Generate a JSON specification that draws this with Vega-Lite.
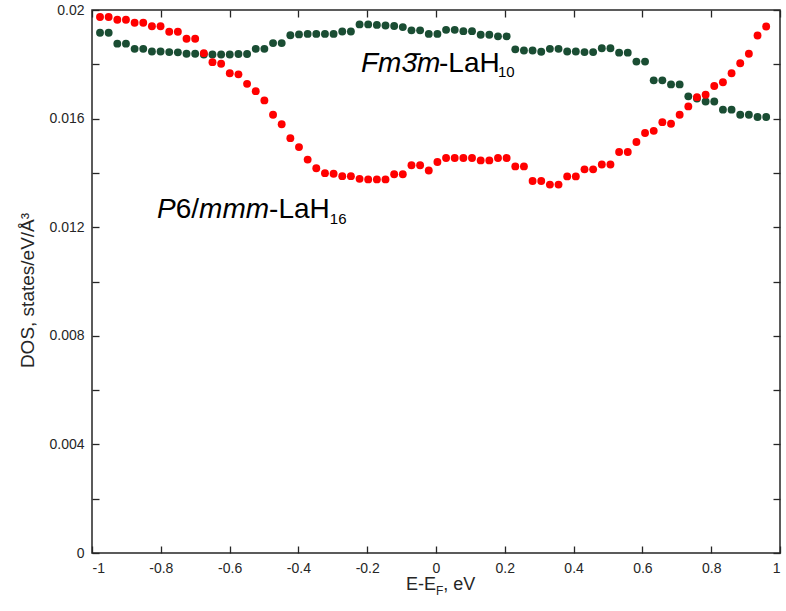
{
  "$schema": "https://vega.github.io/schema/vega-lite/v6.json",
  "width": 688,
  "height": 543,
  "autosize": {"type": "none"},
  "padding": {"left": 92, "top": 10, "right": 6, "bottom": 58},
  "background": "white",
  "config": {
    "font": "Liberation Sans",
    "view": {"stroke": "#262626", "strokeWidth": 1.5},
    "axis": {"grid": false, "domain": false, "tickColor": "#262626", "tickWidth": 1.3, "tickSize": -7, "labelColor": "#262626", "labelFontSize": 14, "labelPadding": 15, "titleColor": "#262626", "titleFontWeight": "normal", "titleFontSize": 19}
  },
  "datasets": {
    "green": [
      {"E": -0.9767, "DOS": 0.01916}, {"E": -0.9516, "DOS": 0.01916}, {"E": -0.9264, "DOS": 0.01876}, {"E": -0.9013, "DOS": 0.01876},
      {"E": -0.8761, "DOS": 0.01857}, {"E": -0.8510, "DOS": 0.01857}, {"E": -0.8258, "DOS": 0.01847}, {"E": -0.8007, "DOS": 0.01847},
      {"E": -0.7755, "DOS": 0.01845}, {"E": -0.7504, "DOS": 0.01844}, {"E": -0.7252, "DOS": 0.01839}, {"E": -0.7001, "DOS": 0.01839},
      {"E": -0.6749, "DOS": 0.01836}, {"E": -0.6498, "DOS": 0.01836}, {"E": -0.6246, "DOS": 0.01836}, {"E": -0.5995, "DOS": 0.01836},
      {"E": -0.5743, "DOS": 0.01838}, {"E": -0.5492, "DOS": 0.01838}, {"E": -0.5240, "DOS": 0.01857}, {"E": -0.4989, "DOS": 0.01857},
      {"E": -0.4737, "DOS": 0.01878}, {"E": -0.4486, "DOS": 0.01878}, {"E": -0.4234, "DOS": 0.01907}, {"E": -0.3983, "DOS": 0.01910},
      {"E": -0.3731, "DOS": 0.01912}, {"E": -0.3480, "DOS": 0.01912}, {"E": -0.3228, "DOS": 0.01912}, {"E": -0.2977, "DOS": 0.01912},
      {"E": -0.2725, "DOS": 0.01921}, {"E": -0.2474, "DOS": 0.01921}, {"E": -0.2222, "DOS": 0.01947}, {"E": -0.1971, "DOS": 0.01947},
      {"E": -0.1719, "DOS": 0.01945}, {"E": -0.1468, "DOS": 0.01943}, {"E": -0.1216, "DOS": 0.01941}, {"E": -0.0965, "DOS": 0.01937},
      {"E": -0.0713, "DOS": 0.01925}, {"E": -0.0462, "DOS": 0.01925}, {"E": -0.0210, "DOS": 0.01912}, {"E": 0.0041, "DOS": 0.01912},
      {"E": 0.0293, "DOS": 0.01927}, {"E": 0.0544, "DOS": 0.01927}, {"E": 0.0796, "DOS": 0.01922}, {"E": 0.1047, "DOS": 0.01922},
      {"E": 0.1299, "DOS": 0.01909}, {"E": 0.1550, "DOS": 0.01909}, {"E": 0.1802, "DOS": 0.01903}, {"E": 0.2053, "DOS": 0.01903},
      {"E": 0.2305, "DOS": 0.01855}, {"E": 0.2556, "DOS": 0.01851}, {"E": 0.2808, "DOS": 0.01851}, {"E": 0.3059, "DOS": 0.01846},
      {"E": 0.3311, "DOS": 0.01857}, {"E": 0.3562, "DOS": 0.01857}, {"E": 0.3814, "DOS": 0.01847}, {"E": 0.4065, "DOS": 0.01847},
      {"E": 0.4317, "DOS": 0.01845}, {"E": 0.4568, "DOS": 0.01845}, {"E": 0.4820, "DOS": 0.01859}, {"E": 0.5071, "DOS": 0.01859},
      {"E": 0.5323, "DOS": 0.01843}, {"E": 0.5574, "DOS": 0.01843}, {"E": 0.5826, "DOS": 0.01810}, {"E": 0.6077, "DOS": 0.01810},
      {"E": 0.6329, "DOS": 0.01741}, {"E": 0.6580, "DOS": 0.01741}, {"E": 0.6832, "DOS": 0.01726}, {"E": 0.7083, "DOS": 0.01726},
      {"E": 0.7335, "DOS": 0.01682}, {"E": 0.7586, "DOS": 0.01674}, {"E": 0.7838, "DOS": 0.01663}, {"E": 0.8089, "DOS": 0.01663},
      {"E": 0.8341, "DOS": 0.01633}, {"E": 0.8592, "DOS": 0.01633}, {"E": 0.8844, "DOS": 0.01614}, {"E": 0.9095, "DOS": 0.01614},
      {"E": 0.9347, "DOS": 0.01606}, {"E": 0.9598, "DOS": 0.01606}
    ],
    "red": [
      {"E": -0.9767, "DOS": 0.01974}, {"E": -0.9516, "DOS": 0.01974}, {"E": -0.9264, "DOS": 0.01964}, {"E": -0.9013, "DOS": 0.01964},
      {"E": -0.8761, "DOS": 0.01953}, {"E": -0.8510, "DOS": 0.01953}, {"E": -0.8258, "DOS": 0.01940}, {"E": -0.8007, "DOS": 0.01940},
      {"E": -0.7755, "DOS": 0.01920}, {"E": -0.7504, "DOS": 0.01920}, {"E": -0.7252, "DOS": 0.01894}, {"E": -0.7001, "DOS": 0.01894},
      {"E": -0.6749, "DOS": 0.01841}, {"E": -0.6498, "DOS": 0.01808}, {"E": -0.6246, "DOS": 0.01802}, {"E": -0.5995, "DOS": 0.01767},
      {"E": -0.5743, "DOS": 0.01763}, {"E": -0.5492, "DOS": 0.01728}, {"E": -0.5240, "DOS": 0.01701}, {"E": -0.4989, "DOS": 0.01667},
      {"E": -0.4737, "DOS": 0.01614}, {"E": -0.4486, "DOS": 0.01579}, {"E": -0.4234, "DOS": 0.01528}, {"E": -0.3983, "DOS": 0.01495},
      {"E": -0.3731, "DOS": 0.01449}, {"E": -0.3480, "DOS": 0.01417}, {"E": -0.3228, "DOS": 0.01399}, {"E": -0.2977, "DOS": 0.01397},
      {"E": -0.2725, "DOS": 0.01388}, {"E": -0.2474, "DOS": 0.01388}, {"E": -0.2222, "DOS": 0.01378}, {"E": -0.1971, "DOS": 0.01376},
      {"E": -0.1719, "DOS": 0.01376}, {"E": -0.1468, "DOS": 0.01376}, {"E": -0.1216, "DOS": 0.01395}, {"E": -0.0965, "DOS": 0.01395},
      {"E": -0.0713, "DOS": 0.01428}, {"E": -0.0462, "DOS": 0.01428}, {"E": -0.0210, "DOS": 0.01409}, {"E": 0.0041, "DOS": 0.01440},
      {"E": 0.0293, "DOS": 0.01455}, {"E": 0.0544, "DOS": 0.01455}, {"E": 0.0796, "DOS": 0.01455}, {"E": 0.1047, "DOS": 0.01455},
      {"E": 0.1299, "DOS": 0.01446}, {"E": 0.1550, "DOS": 0.01446}, {"E": 0.1802, "DOS": 0.01455}, {"E": 0.2053, "DOS": 0.01455},
      {"E": 0.2305, "DOS": 0.01424}, {"E": 0.2556, "DOS": 0.01424}, {"E": 0.2808, "DOS": 0.01370}, {"E": 0.3059, "DOS": 0.01370},
      {"E": 0.3311, "DOS": 0.01357}, {"E": 0.3562, "DOS": 0.01357}, {"E": 0.3814, "DOS": 0.01387}, {"E": 0.4065, "DOS": 0.01387},
      {"E": 0.4317, "DOS": 0.01413}, {"E": 0.4568, "DOS": 0.01413}, {"E": 0.4820, "DOS": 0.01431}, {"E": 0.5071, "DOS": 0.01431},
      {"E": 0.5323, "DOS": 0.01477}, {"E": 0.5574, "DOS": 0.01477}, {"E": 0.5826, "DOS": 0.01514}, {"E": 0.6077, "DOS": 0.01547},
      {"E": 0.6329, "DOS": 0.01555}, {"E": 0.6580, "DOS": 0.01587}, {"E": 0.6832, "DOS": 0.01581}, {"E": 0.7083, "DOS": 0.01614},
      {"E": 0.7335, "DOS": 0.01645}, {"E": 0.7586, "DOS": 0.01679}, {"E": 0.7838, "DOS": 0.01688}, {"E": 0.8089, "DOS": 0.01720},
      {"E": 0.8341, "DOS": 0.01734}, {"E": 0.8592, "DOS": 0.01767}, {"E": 0.8844, "DOS": 0.01804}, {"E": 0.9095, "DOS": 0.01839},
      {"E": 0.9347, "DOS": 0.01906}, {"E": 0.9598, "DOS": 0.01939}
    ]
  },
  "layer": [
    {
      "data": {"name": "green"},
      "mark": {"type": "point", "shape": "circle", "filled": true, "opacity": 1, "size": 62, "color": "#1a4d33"},
      "encoding": {
        "x": {"field": "E", "type": "quantitative", "scale": {"domain": [-1, 1], "nice": false, "zero": false},
              "axis": {"orient": "bottom", "values": [-1, -0.8, -0.6, -0.4, -0.2, 0, 0.2, 0.4, 0.6, 0.8, 1], "format": "~g", "labelExpr": "replace(datum.label, '\u2212', '-')", "title": null}},
        "y": {"field": "DOS", "type": "quantitative", "scale": {"domain": [0, 0.02], "nice": false, "zero": false},
              "axis": {"orient": "left", "values": [0, 0.002, 0.004, 0.006, 0.008, 0.01, 0.012, 0.014, 0.016, 0.018, 0.02], "format": ".3~f", "labelExpr": "round(datum.value*1000) % 4 == 0 ? datum.label : ''", "title": "DOS, states/eV/Å³", "titlePadding": 11, "titleY": 280}}
      }
    },
    {
      "data": {"name": "red"},
      "mark": {"type": "point", "shape": "circle", "filled": true, "opacity": 1, "size": 62, "color": "#ff0000"},
      "encoding": {
        "x": {"field": "E", "type": "quantitative", "scale": {"domain": [-1, 1], "nice": false, "zero": false},
              "axis": {"orient": "top", "values": [-1, -0.8, -0.6, -0.4, -0.2, 0, 0.2, 0.4, 0.6, 0.8, 1], "labels": false, "title": null}},
        "y": {"field": "DOS", "type": "quantitative", "scale": {"domain": [0, 0.02], "nice": false, "zero": false},
              "axis": {"orient": "right", "values": [0, 0.002, 0.004, 0.006, 0.008, 0.01, 0.012, 0.014, 0.016, 0.018, 0.02], "labels": false, "title": null}}
      }
    },
    {
      "data": {"values": [{}]},
      "mark": {"type": "text", "text": "Fm3̄m", "fontStyle": "italic", "fontSize": 28, "align": "left", "baseline": "alphabetic", "color": "#000000", "clip": false},
      "encoding": {"x": {"datum": -0.218, "type": "quantitative", "axis": null}, "y": {"datum": 0.0177, "type": "quantitative", "axis": null}}
    },
    {
      "data": {"values": [{}]},
      "mark": {"type": "text", "text": "-LaH", "fontSize": 28, "align": "left", "baseline": "alphabetic", "color": "#000000", "clip": false},
      "encoding": {"x": {"datum": 0.0087, "type": "quantitative", "axis": null}, "y": {"datum": 0.0177, "type": "quantitative", "axis": null}}
    },
    {
      "data": {"values": [{}]},
      "mark": {"type": "text", "text": "10", "fontSize": 15, "align": "left", "baseline": "alphabetic", "color": "#000000", "clip": false},
      "encoding": {"x": {"datum": 0.1802, "type": "quantitative", "axis": null}, "y": {"datum": 0.01752, "type": "quantitative", "axis": null}}
    },
    {
      "data": {"values": [{}]},
      "mark": {"type": "text", "text": "P", "fontStyle": "italic", "fontSize": 28, "align": "left", "baseline": "alphabetic", "color": "#000000", "clip": false},
      "encoding": {"x": {"datum": -0.811, "type": "quantitative", "axis": null}, "y": {"datum": 0.01233, "type": "quantitative", "axis": null}}
    },
    {
      "data": {"values": [{}]},
      "mark": {"type": "text", "text": "6/", "fontSize": 28, "align": "left", "baseline": "alphabetic", "color": "#000000", "clip": false},
      "encoding": {"x": {"datum": -0.7567, "type": "quantitative", "axis": null}, "y": {"datum": 0.01233, "type": "quantitative", "axis": null}}
    },
    {
      "data": {"values": [{}]},
      "mark": {"type": "text", "text": "mmm", "fontStyle": "italic", "fontSize": 28, "align": "left", "baseline": "alphabetic", "color": "#000000", "clip": false},
      "encoding": {"x": {"datum": -0.6887, "type": "quantitative", "axis": null}, "y": {"datum": 0.01233, "type": "quantitative", "axis": null}}
    },
    {
      "data": {"values": [{}]},
      "mark": {"type": "text", "text": "-LaH", "fontSize": 28, "align": "left", "baseline": "alphabetic", "color": "#000000", "clip": false},
      "encoding": {"x": {"datum": -0.4852, "type": "quantitative", "axis": null}, "y": {"datum": 0.01233, "type": "quantitative", "axis": null}}
    },
    {
      "data": {"values": [{}]},
      "mark": {"type": "text", "text": "16", "fontSize": 15, "align": "left", "baseline": "alphabetic", "color": "#000000", "clip": false},
      "encoding": {"x": {"datum": -0.3087, "type": "quantitative", "axis": null}, "y": {"datum": 0.01211, "type": "quantitative", "axis": null}}
    },
    {
      "data": {"values": [{}]},
      "mark": {"type": "text", "text": "E-E", "fontSize": 18, "align": "left", "baseline": "alphabetic", "color": "#262626", "clip": false},
      "encoding": {"x": {"datum": -0.0872, "type": "quantitative", "axis": null}, "y": {"datum": -0.00136, "type": "quantitative", "axis": null}}
    },
    {
      "data": {"values": [{}]},
      "mark": {"type": "text", "text": "F", "fontSize": 12, "align": "left", "baseline": "alphabetic", "color": "#262626", "clip": false},
      "encoding": {"x": {"datum": 0.0, "type": "quantitative", "axis": null}, "y": {"datum": -0.00155, "type": "quantitative", "axis": null}}
    },
    {
      "data": {"values": [{}]},
      "mark": {"type": "text", "text": ", eV", "fontSize": 18, "align": "left", "baseline": "alphabetic", "color": "#262626", "clip": false},
      "encoding": {"x": {"datum": 0.0212, "type": "quantitative", "axis": null}, "y": {"datum": -0.00136, "type": "quantitative", "axis": null}}
    }
  ],
  "resolve": {"axis": {"x": "independent", "y": "independent"}}
}
